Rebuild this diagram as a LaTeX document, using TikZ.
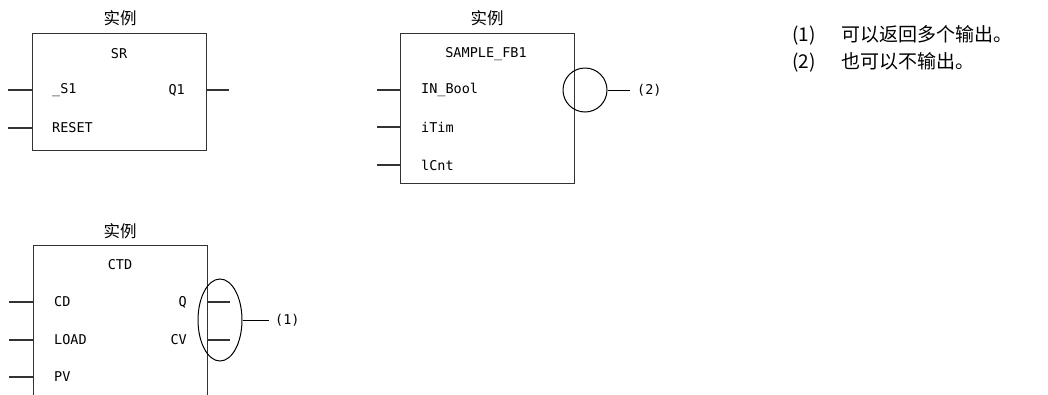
\documentclass[tikz,border=0pt]{standalone}
\usepackage{fontspec}
\usetikzlibrary{shapes.geometric}
\newfontfamily\cjk{Noto Sans CJK SC}
\newfontfamily\pinfont{DejaVu Sans Mono}
\definecolor{ln}{HTML}{333333}
\tikzset{
  fb/.style={draw=ln, line width=1.4pt, anchor=north west, inner sep=0pt},
  pin/.style={font=\pinfont\fontsize{13.5}{15}\selectfont, text=black, inner sep=0pt},
  ttl/.style={font=\cjk\fontsize{16.5}{18}\selectfont, text=black, inner sep=0pt},
  stub/.style={draw=ln, line width=1.2pt},
  hilite/.style={draw=black, line width=1pt},
  lgd/.style={font=\cjk\fontsize{19}{22}\selectfont, text=black, anchor=west, inner sep=0pt}
}
\begin{document}
\begin{tikzpicture}[x=1pt,y=-1pt]
\useasboundingbox (0,0) rectangle (1048,394);
\clip (0,0) rectangle (1048,394);
% SR block
\node[fb, minimum width=174pt, minimum height=117pt] (sr) at (32,33) {};
\node[ttl] (srt) at (120,18) {实例};
\node[pin] (srn) at (119,54) {SR};
\node[pin, anchor=west] (srs1) at (52,90) {\_S1};
\node[pin, anchor=west] (srrs) at (52,128) {RESET};
\node[pin, anchor=east] (srq) at (185,90) {Q1};
\coordinate (srin1) at (8,90);
\coordinate (srin2) at (8,128);
\coordinate (srout) at (229,90);
\draw[stub] (srin1) -- (sr.west |- srin1);
\draw[stub] (srin2) -- (sr.west |- srin2);
\draw[stub] (sr.east |- srout) -- (srout);
% SAMPLE_FB1 block
\node[fb, minimum width=174pt, minimum height=150pt] (fb) at (400,33) {};
\node[ttl] (fbt) at (487,18) {实例};
\node[pin] (fbn) at (486,54) {SAMPLE\_FB1};
\node[pin, anchor=west] (fbi1) at (421,90) {IN\_Bool};
\node[pin, anchor=west] (fbi2) at (421,127) {iTim};
\node[pin, anchor=west] (fbi3) at (421,165) {lCnt};
\coordinate (fbin1) at (377,90);
\coordinate (fbin2) at (377,127);
\coordinate (fbin3) at (377,165);
\draw[stub] (fbin1) -- (fb.west |- fbin1);
\draw[stub] (fbin2) -- (fb.west |- fbin2);
\draw[stub] (fbin3) -- (fb.west |- fbin3);
\node[hilite, circle, minimum size=44pt, inner sep=0pt] (c2) at (585,90) {};
\node[pin, anchor=west] (l2) at (637,90) {(2)};
\coordinate (c2e) at (630,90);
\draw[hilite] (c2.east) -- (c2e);
% CTD block
\node[fb, minimum width=174pt, minimum height=200pt] (ctd) at (33,245) {};
\node[ttl] (ctdt) at (120,231) {实例};
\node[pin] (ctdn) at (120,265) {CTD};
\node[pin, anchor=west] (cd) at (54,302) {CD};
\node[pin, anchor=west] (load) at (54,340) {LOAD};
\node[pin, anchor=west] (pv) at (54,377) {PV};
\node[pin, anchor=east] (q) at (187,302) {Q};
\node[pin, anchor=east] (cv) at (187,340) {CV};
\coordinate (ci1) at (9,302);
\coordinate (ci2) at (9,340);
\coordinate (ci3) at (9,377);
\coordinate (co1) at (230,302);
\coordinate (co2) at (230,340);
\draw[stub] (ci1) -- (ctd.west |- ci1);
\draw[stub] (ci2) -- (ctd.west |- ci2);
\draw[stub] (ci3) -- (ctd.west |- ci3);
\draw[stub] (ctd.east |- co1) -- (co1);
\draw[stub] (ctd.east |- co2) -- (co2);
\node[hilite, ellipse, minimum width=44pt, minimum height=82pt, inner sep=0pt] (e1) at (220,320) {};
\node[pin, anchor=west] (l1) at (275,320) {(1)};
\coordinate (e1e) at (269,320);
\draw[hilite] (e1.east) -- (e1e);
% legend
\node[lgd] (g1) at (792,35) {(1)\hspace{26pt}可以返回多个输出。};
\node[lgd] (g2) at (792,62) {(2)\hspace{26pt}也可以不输出。};
\end{tikzpicture}
\end{document}
